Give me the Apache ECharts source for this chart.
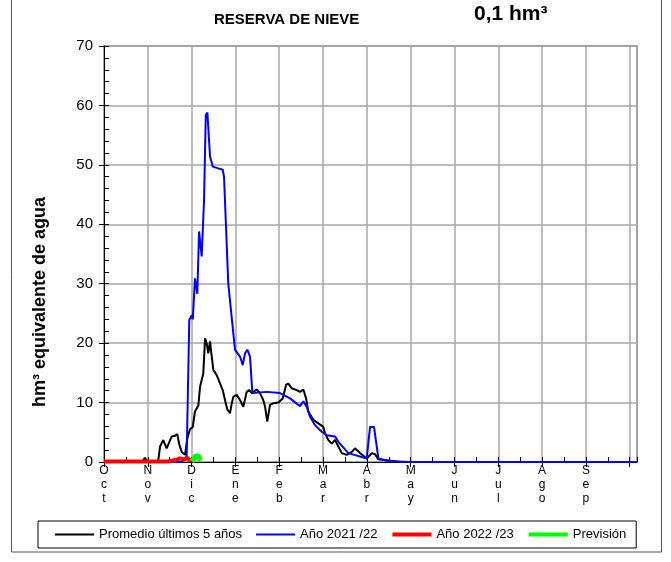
<!DOCTYPE html>
<html>
<head>
<meta charset="utf-8">
<script src="https://cdn.jsdelivr.net/npm/echarts@6/dist/echarts.min.js"></script>
<style>
html,body{margin:0;padding:0;background:#fff;}
#chart{width:671px;height:562px;}
</style>
</head>
<body>
<div id="chart"></div>
<script>
// Month tick labels (one every 30 days from 1 Oct)
var monthLabels = ['O\nc\nt','N\no\nv','D\ni\nc','E\nn\ne','F\ne\nb','M\na\nr','A\nb\nr','M\na\ny','J\nu\nn','J\nu\nl','A\ng\no','S\ne\np'];

// Promedio últimos 5 años (day from 1 Oct, hm³)
var blackDays = [0,26,28,30,37,38.4,40.6,42.9,46.4,48.6,50.2,51.6,53.2,55.5,57.1,58.9,60.8,62.3,64.6,65.8,68,69.2,70.3,71.4,72.6,73.8,74.9,77.2,79.5,81.3,82.9,84.5,86.3,87.5,88.6,90.9,93.2,95.4,97.7,99.5,101.2,104.6,106.8,109.1,110.3,111.8,113.7,116,119.4,122.4,124.7,126.2,128.6,132,134.2,136.5,138.4,139.9,143.4,146.8,150.2,151.4,153.6,156,158.2,160.5,162.8,166.2,169.7,171.9,175.3,179.9,183.4,185.6,187.9,193.6,200.5,210,365];
var blackVals = [0,0,0.7,0,0,2.6,3.7,2.3,4.3,4.4,4.7,2.9,1.7,1.2,4,5.5,5.9,8.5,9.5,12.7,14.9,20.8,20,18.3,20.3,17.7,15.5,14.6,13.2,12.1,10.4,8.8,8.2,9.9,11,11.3,10.4,9.3,11.8,12.1,11.6,12.2,11.6,10.4,9.3,6.8,9.6,9.9,10,10.7,13,13.2,12.4,12.1,11.8,12.2,10.7,8.5,7.1,6.5,5.9,4.8,3.7,3.1,3.7,2.6,1.5,1.2,1.7,2.3,1.5,0.6,1.5,1.3,0.45,0.3,0.1,0,0];

// Año 2021 /22
var blueDays = [0,44,45,46,53,55,56.6,58.4,60.1,60.8,62.3,63.9,65.1,66.9,68.5,69.7,70.8,72.6,74.5,78.3,81.3,82.2,85.1,89.7,93.2,95,96.6,98.2,100,101.6,111.4,120.5,127.4,134.2,136.5,138.8,141.1,144.5,149.1,152.5,158.2,160.5,167.3,179.9,182.2,184.9,187.9,193.6,202.7,215,365];
var blueVals = [0,0,0.4,0,0,0.6,0.9,23.9,24.7,24,30.9,28.3,38.8,34.6,44,58.4,58.8,51.4,49.7,49.4,49.2,48,30,18.9,17.7,16.3,18.3,18.9,17.7,11.6,11.8,11.6,10.7,9.4,10.2,9.3,7.6,6.2,5.1,4.5,4.3,3.4,1.5,0.6,5.9,5.9,0.6,0.2,0.05,0,0];

// Año 2022 /23
var redDays = [0,45,48,50,52,53,55,57,59,60];
var redVals = [0.1,0.1,0.3,0.4,0.6,0.9,0.4,0.7,0.3,0.2];

// Previsión
var greenDays = [60,61,62,63,64,65,66];
var greenVals = [0.1,0.3,0.7,1.1,1.2,0.9,0.2];

function zip(d, v){ var out=[]; for(var i=0;i<d.length;i++){ out.push([d[i], v[i]]); } return out; }

var FONT = 'Liberation Sans, Arial, sans-serif';
var chart = echarts.init(document.getElementById('chart'), null, {renderer:'canvas'});
var option = {
  animation: false,
  backgroundColor: '#fff',
  textStyle: {fontFamily: FONT},
  title: [
    {text: 'RESERVA DE NIEVE', left: 214, top: 12, padding: 0,
     textStyle: {fontFamily: FONT, fontSize: 15, fontWeight: 'bold', color: '#000'}},
    {text: '0,1 hm³', left: 474, top: 4, padding: 0,
     textStyle: {fontFamily: FONT, fontSize: 21, fontWeight: 'bold', color: '#000'}}
  ],
  grid: {left: 104, right: 34, top: 46, bottom: 100, show: true, borderColor: '#808080', borderWidth: 1.5, backgroundColor: 'transparent'},
  legend: {
    left: 38, top: 521, orient: 'horizontal',
    borderColor: '#000', borderWidth: 1, padding: [7, 10, 7, 16],
    itemWidth: 39, itemHeight: 12, itemGap: 13,
    itemStyle: {opacity: 0},
    textStyle: {fontFamily: FONT, fontSize: 13, color: '#000'},
    data: [
      {name: 'Promedio últimos 5 años', lineStyle: {width: 2}},
      {name: 'Año 2021 /22', lineStyle: {width: 2}},
      {name: 'Año 2022 /23', lineStyle: {width: 4}},
      {name: 'Previsión', lineStyle: {width: 4}}
    ]
  },
  xAxis: [
    {type: 'value', min: 0, max: 365, interval: 30, position: 'bottom',
     axisLine: {show: true, lineStyle: {color: '#000', width: 1}},
     axisTick: {show: true, length: 5, lineStyle: {color: '#000'}},
     splitLine: {show: true, lineStyle: {color: '#a6a6a6', width: 1.5}},
     axisLabel: {show: true, showMaxLabel: false, margin: 2, fontFamily: FONT, fontSize: 12, lineHeight: 14, color: '#000',
       formatter: function(v){ var i = Math.round(v/30); return (i < monthLabels.length) ? monthLabels[i] : ''; }}},
    {type: 'value', min: 0, max: 365, interval: 15, position: 'bottom',
     axisLine: {show: false}, axisLabel: {show: false}, splitLine: {show: false},
     axisTick: {show: true, inside: true, length: 5, lineStyle: {color: '#000'}}}
  ],
  yAxis: [
    {type: 'value', min: 0, max: 70, interval: 10, position: 'left',
     axisLine: {show: true, lineStyle: {color: '#000', width: 1}},
     axisTick: {show: true, length: 5, lineStyle: {color: '#000'}},
     splitLine: {show: true, lineStyle: {color: '#a6a6a6', width: 1.5}},
     axisLabel: {margin: 11, fontFamily: FONT, fontSize: 15, color: '#000'}},
    {type: 'value', min: 0, max: 70, interval: 2, position: 'left',
     axisLine: {show: false}, axisLabel: {show: false}, splitLine: {show: false},
     axisTick: {show: true, inside: true, length: 5, lineStyle: {color: '#000'}}}
  ],
  graphic: [
    {type: 'rect', shape: {x: 11.5, y: -1, width: 650, height: 553}, style: {fill: 'none', stroke: '#555', lineWidth: 1}, silent: true, z: -1},
    {type: 'text', x: 40, y: 302, rotation: Math.PI/2,
     style: {text: 'hm³ equivalente de agua', fontFamily: FONT, fontSize: 18, fontWeight: 'bold', fill: '#000',
             textAlign: 'center', textVerticalAlign: 'middle', align: 'center', verticalAlign: 'middle'}}
  ],
  series: [
    {name: 'Promedio últimos 5 años', type: 'line', xAxisIndex: 0, yAxisIndex: 0, symbol: 'none',
     lineStyle: {color: '#000', width: 2}, itemStyle: {color: '#000'}, data: zip(blackDays, blackVals)},
    {name: 'Año 2021 /22', type: 'line', xAxisIndex: 0, yAxisIndex: 0, symbol: 'none',
     lineStyle: {color: '#0000ff', width: 2}, itemStyle: {color: '#0000ff'}, data: zip(blueDays, blueVals)},
    {name: 'Año 2022 /23', type: 'line', xAxisIndex: 0, yAxisIndex: 0, symbol: 'none',
     lineStyle: {color: '#ff0000', width: 4}, itemStyle: {color: '#ff0000'}, data: zip(redDays, redVals)},
    {name: 'Previsión', type: 'line', xAxisIndex: 0, yAxisIndex: 0, symbol: 'none',
     lineStyle: {color: '#00ff00', width: 5}, itemStyle: {color: '#00ff00'}, data: zip(greenDays, greenVals)}
  ]
};
chart.setOption(option);
</script>
</body>
</html>
